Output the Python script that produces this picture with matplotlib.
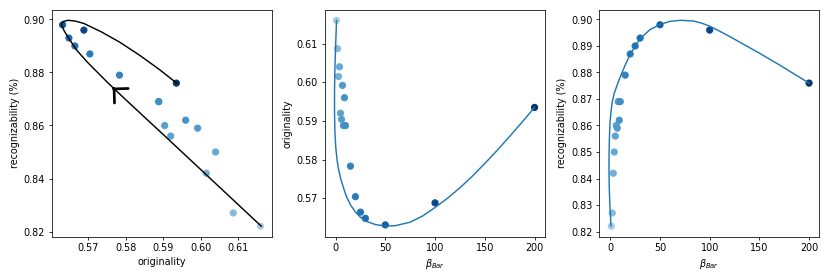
import numpy as np
import matplotlib
matplotlib.use('Agg')
import matplotlib.pyplot as plt
from matplotlib.ticker import MultipleLocator

# measured points
beta = [1, 2, 3, 4, 5, 6, 7, 8, 9, 10, 15, 20, 25, 30, 50, 100, 200]
originality = [0.6160, 0.6087, 0.6015, 0.6040, 0.5920, 0.5904, 0.5992, 0.5888, 0.5960,
               0.5888, 0.5783, 0.5704, 0.5664, 0.5648, 0.5631, 0.5688, 0.5935]
recognizability = [0.822, 0.827, 0.842, 0.850, 0.856, 0.860, 0.859, 0.869, 0.862,
                   0.869, 0.879, 0.887, 0.890, 0.893, 0.898, 0.896, 0.876]

# fitted curve, left panel (originality -> recognizability)
path_orig = [0.6162, 0.6100, 0.6000, 0.5900, 0.5800, 0.5750, 0.5700, 0.5670, 0.5648,
             0.5635, 0.5628, 0.5632, 0.5645, 0.5665, 0.5688, 0.5735, 0.5783, 0.5836,
             0.5889, 0.5936]
path_recog = [0.8220, 0.8302, 0.8434, 0.8566, 0.8697, 0.8764, 0.8835, 0.8882, 0.8928,
              0.8958, 0.8980, 0.8992, 0.8997, 0.8994, 0.8985, 0.8953, 0.8915, 0.8866,
              0.8812, 0.8760]
arrow_tip = (0.5765, 0.8743)
arrow_tail = (0.5768, 0.8739)

# fitted curve, middle panel
fit_beta_o = [1.0, 0.2, -0.6, -1.0, -1.0, -0.6, 0.3, 1.5, 3.0, 5.5, 8, 11, 15, 20, 25,
              30, 40, 50, 60, 75, 87.5, 100, 112.5, 125, 137.5, 150, 162.5, 175,
              187.5, 200]
fit_orig = [0.6160, 0.6100, 0.6040, 0.5980, 0.5920, 0.5870, 0.5830, 0.5800, 0.5775,
            0.5748, 0.5727, 0.5704, 0.5683, 0.5664, 0.5651, 0.5641, 0.5632, 0.5628,
            0.5629, 0.5638, 0.5654, 0.5676, 0.5700, 0.5727, 0.5757, 0.5790, 0.5824,
            0.5860, 0.5897, 0.5935]

# fitted curve, right panel
fit_beta_r = [0.7, -0.3, -1.0, -1.3, -1.3, -0.9, -0.3, 0.7, 2.0, 4, 6, 8, 11, 15, 20,
              25, 30, 40, 50, 60, 71, 84, 92, 100, 110, 120, 130, 140, 150, 160, 170,
              180, 190, 200]
fit_recog = [0.8221, 0.8290, 0.8358, 0.8420, 0.8483, 0.8550, 0.8611, 0.8652, 0.8690,
             0.8722, 0.8743, 0.8764, 0.8792, 0.8828, 0.8868, 0.8900, 0.8927, 0.8962,
             0.8981, 0.8993, 0.8997, 0.8994, 0.8986, 0.8975, 0.8956, 0.8936, 0.8915,
             0.8894, 0.8873, 0.8851, 0.8829, 0.8806, 0.8783, 0.8760]

colors = np.log(beta)
cnorm = dict(cmap='Blues', vmin=-2.85, vmax=np.log(200), s=42)

fig = plt.figure(figsize=(12, 4.005))
w, h, b = 0.2651, 0.8177, 0.1462

ax1 = fig.add_axes([0.0623, b, w, h])
ax1.scatter(originality, recognizability, c=colors, **cnorm)
ax1.plot(path_orig, path_recog, color='black', lw=1.5)
ax1.annotate('', xy=arrow_tip, xytext=arrow_tail,
             arrowprops=dict(arrowstyle='->, head_length=0.4, head_width=0.4',
                             color='black', lw=2.8, mutation_scale=26,
                             shrinkA=0, shrinkB=0))
ax1.set_xlim(0.5602, 0.6190)
ax1.yaxis.set_major_locator(MultipleLocator(0.02))
ax1.set_xlabel('originality')
ax1.set_ylabel('recognizability (%)')

ax2 = fig.add_axes([0.391, b, w, h])
ax2.scatter(beta, originality, c=colors, **cnorm)
ax2.plot(fit_beta_o, fit_orig, color='C0', lw=1.5)
ax2.set_ylim(0.5601, 0.6187)
ax2.set_xlabel(r'$\beta_{Bar}$')
ax2.set_ylabel('originality')

ax3 = fig.add_axes([0.7217, b, w, h])
ax3.scatter(beta, recognizability, c=colors, **cnorm)
ax3.plot(fit_beta_r, fit_recog, color='C0', lw=1.5)
ax3.set_xlabel(r'$\beta_{Bar}$')
ax3.set_ylabel('recognizability (%)')

fig.savefig('out.png', dpi=830 / 12)
